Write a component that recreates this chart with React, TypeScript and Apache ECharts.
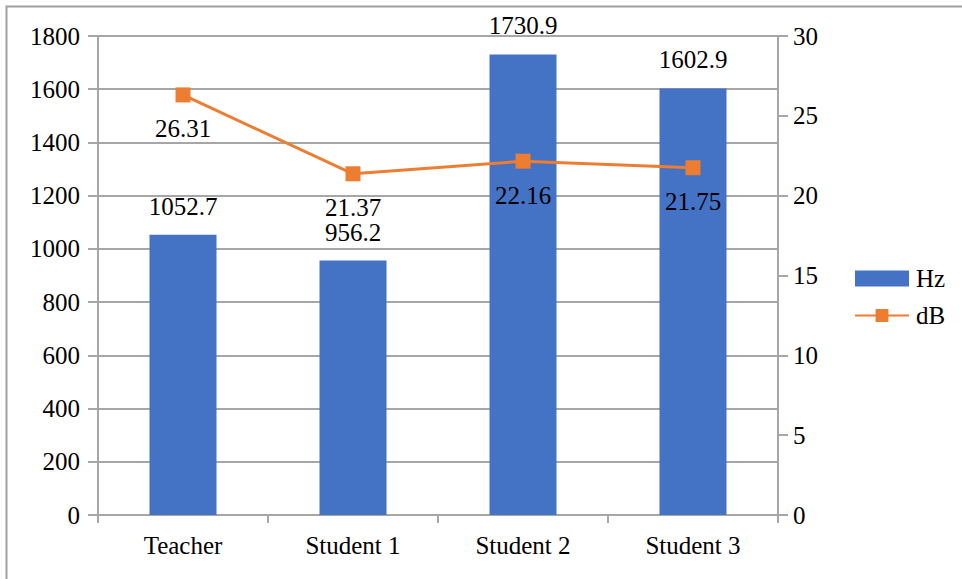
import React, { useEffect, useRef } from "react";
import * as echarts from "echarts";

const categories = ["Teacher", "Student 1", "Student 2", "Student 3"];
const hzValues = [1052.7, 956.2, 1730.9, 1602.9];
const dbValues = [26.31, 21.37, 22.16, 21.75];

const FONT = "'Liberation Serif', 'DejaVu Serif', serif";
const FONT_SIZE = 25;
const GRID_GRAY = "#a6a6a6";

export default function App() {
  const ref = useRef<HTMLDivElement>(null);

  useEffect(() => {
    if (!ref.current) return;
    const chart = echarts.init(ref.current, undefined, { renderer: "svg" });
    chart.setOption({
      animation: false,
      backgroundColor: "#ffffff",
      textStyle: { fontFamily: FONT, color: "#000" },
      graphic: [
        {
          type: "rect",
          shape: { x: 6.5, y: 6.5, width: 980, height: 600 },
          style: { fill: "none", stroke: "#a0a0a0", lineWidth: 2 },
          silent: true,
        },
      ],
      grid: { left: 98, right: 184, top: 36, bottom: 64 },
      legend: {
        orient: "vertical",
        left: 849,
        top: 261,
        itemWidth: 54,
        itemHeight: 16,
        itemGap: 12,
        textStyle: {
          fontFamily: FONT,
          fontSize: FONT_SIZE,
          color: "#000",
          padding: [0, 0, 0, 2],
        },
        data: [
          { name: "Hz", icon: "rect" },
          { name: "dB" },
        ],
      },
      xAxis: {
        type: "category",
        data: categories,
        axisLine: { lineStyle: { color: GRID_GRAY, width: 2 } },
        axisTick: {
          show: true,
          alignWithLabel: false,
          length: 8,
          lineStyle: { color: GRID_GRAY, width: 2 },
        },
        axisLabel: {
          fontFamily: FONT,
          fontSize: FONT_SIZE,
          color: "#000",
          margin: 18,
        },
      },
      yAxis: [
        {
          type: "value",
          min: 0,
          max: 1800,
          interval: 200,
          axisLine: { show: true, lineStyle: { color: GRID_GRAY, width: 2 } },
          axisTick: { show: true, length: 10, lineStyle: { color: GRID_GRAY, width: 2 } },
          splitLine: { show: true, lineStyle: { color: GRID_GRAY, width: 2 } },
          axisLabel: {
            fontFamily: FONT,
            fontSize: FONT_SIZE,
            color: "#000",
            margin: 18,
            formatter: (v: number) => String(v),
          },
        },
        {
          type: "value",
          min: 0,
          max: 30,
          interval: 5,
          position: "right",
          axisLine: { show: true, lineStyle: { color: GRID_GRAY, width: 2 } },
          axisTick: { show: true, length: 10, lineStyle: { color: GRID_GRAY, width: 2 } },
          splitLine: { show: false },
          axisLabel: {
            fontFamily: FONT,
            fontSize: FONT_SIZE,
            color: "#000",
            margin: 15,
            formatter: (v: number) => String(v),
          },
        },
      ],
      series: [
        {
          name: "Hz",
          type: "bar",
          data: hzValues,
          yAxisIndex: 0,
          barWidth: 67,
          itemStyle: { color: "#4472c4" },
          label: {
            show: true,
            position: "top",
            distance: 16,
            fontFamily: FONT,
            fontSize: FONT_SIZE,
            color: "#000",
          },
        },
        {
          name: "dB",
          type: "line",
          data: dbValues,
          yAxisIndex: 1,
          symbol: "rect",
          symbolSize: 15,
          lineStyle: { color: "#ed7d31", width: 3 },
          itemStyle: { color: "#ed7d31" },
          label: {
            show: true,
            position: "bottom",
            distance: 14,
            fontFamily: FONT,
            fontSize: FONT_SIZE,
            color: "#000",
          },
          z: 3,
        },
      ],
    });
    return () => chart.dispose();
  }, []);

  return (
    <div
      ref={ref}
      style={{ position: "fixed", left: 0, top: 0, width: 962, height: 579 }}
    />
  );
}
